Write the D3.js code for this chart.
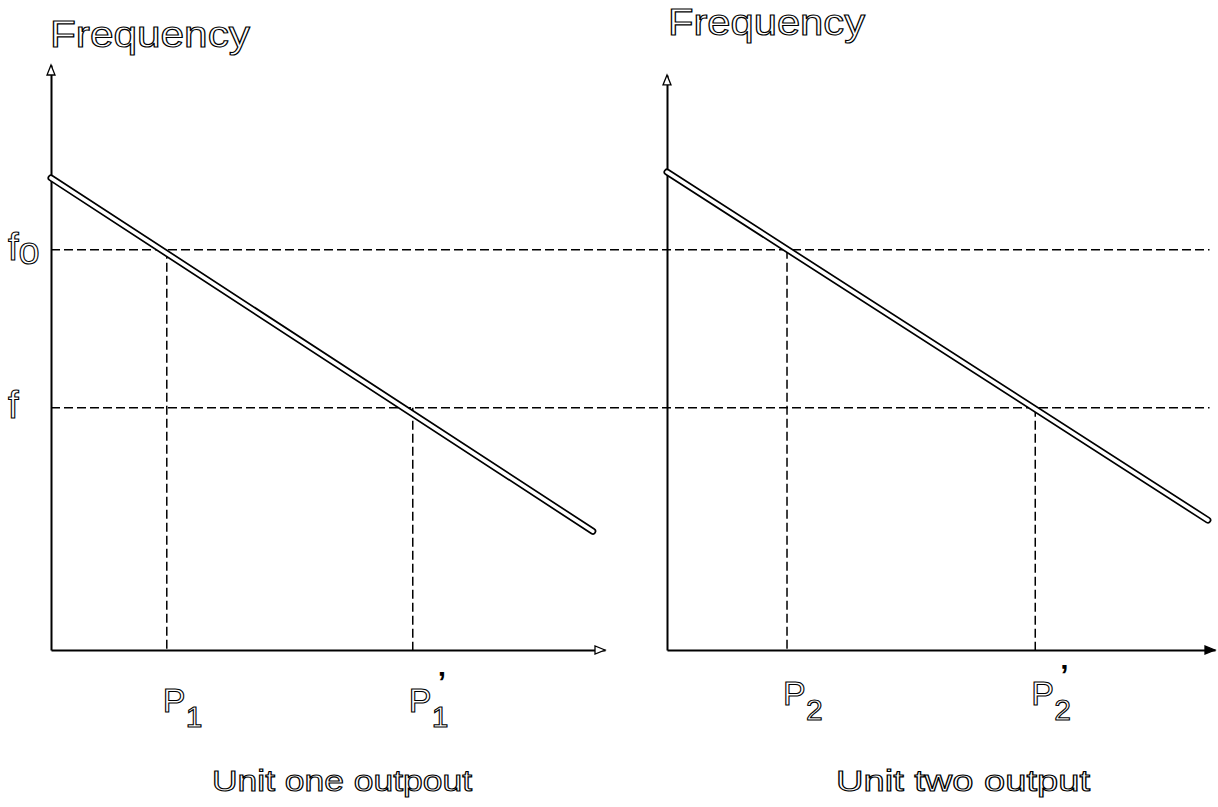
<!DOCTYPE html>
<html>
<head>
<meta charset="utf-8">
<script src="https://cdn.jsdelivr.net/npm/d3@7"></script>
<style>
	body { margin: 0; background: #fff; }
	svg { display: block; }
	.outline { fill: #fff; stroke: #000; stroke-width: 1.1px; font-family: "Liberation Sans", Arial, sans-serif; }
	.domain { stroke: #000; stroke-width: 2px; }
</style>
</head>
<body>
<div id="chart"></div>
<script>
// panel names (x axis titles)
const panelNames = ["Unit one outpout", "Unit two output"]
const yTitle = "Frequency"

// frequency levels, shared by both panels
const freqLabels = [["f", "o"], ["f", ""]]
const freqValues = [6.84, 4.14]

// output points where each panel's droop line meets f0 and f
const pointSubs = [["1", "1"], ["2", "2"]]
const pointPrime = [false, true]
const pointValues = [[2.09, 6.53], [2.19, 6.72]]

// droop line of each unit: frequency at zero output, and the end point
const lineStartFreq = [8.07, 8.17]
const lineEndOutput = [9.78, 9.87]
const lineEndFreq = [2.03, 2.22]

// axis extents
const axisTop = [10, 9.83]
const axisRight = [10, 10]

const width = 1218
const height = 807

const svg = d3.select("#chart")
	.append("svg")
	.attr("width", width)
	.attr("height", height)

const yScale = d3.scaleLinear().domain([0, 10]).range([650, 65])

const xScales = [
	d3.scaleLinear().domain([0, 10]).range([51, 605]),
	d3.scaleLinear().domain([0, 10]).range([667, 1215]),
]

const titlePos = [{ x: 50, y: 47 }, { x: 668, y: 35 }]
const titleLen = [200, 197]
const pointLabelY = [712, 705]
const panelNamePos = [{ x: 212, len: 260 }, { x: 836, len: 254 }]
const hollowArrow = [{ y: true, x: true }, { y: true, x: false }]

// dashed frequency levels run across both panels
const dashed = svg.append("g").attr("class", "levels")
freqValues.forEach((v) => {
	dashed.append("line")
		.attr("x1", xScales[0](0))
		.attr("x2", xScales[1](9.9))
		.attr("y1", yScale(v))
		.attr("y2", yScale(v))
		.attr("stroke", "#000")
		.attr("stroke-width", 1.5)
		.attr("stroke-dasharray", "9,4")
})

// frequency labels on the left
freqLabels.forEach(([main, sub], i) => {
	const t = svg.append("text")
		.attr("class", "outline")
		.attr("x", 8)
		.attr("y", yScale(freqValues[i]) + 10)
		.style("font-size", "38px")
	t.append("tspan").text(main)
	if (sub) {
		t.append("tspan")
			.attr("dy", 4)
			.style("font-size", "38px")
			.text(sub)
	}
})

panelNames.forEach((name, i) => {
	const x = xScales[i]
	const g = svg.append("g").attr("class", `panel panel-${i}`)
	const yAxisScale = yScale.copy()
		.domain([0, axisTop[i]])
		.range([yScale(0), yScale(axisTop[i])])
	const xAxisScale = x.copy()
		.domain([0, axisRight[i]])
		.range([x(0), x(axisRight[i])])

	// vertical dashed drops from the droop line to the output axis
	pointValues[i].forEach((p, j) => {
		g.append("line")
			.attr("x1", x(p))
			.attr("x2", x(p))
			.attr("y1", yScale(freqValues[j]))
			.attr("y2", yScale(0))
			.attr("stroke", "#000")
			.attr("stroke-width", 1.5)
			.attr("stroke-dasharray", "9,4")
	})

	// axes
	g.append("g")
		.attr("class", "y-axis")
		.attr("transform", `translate(${x(0)},0)`)
		.call(d3.axisLeft(yAxisScale).tickValues([]).tickSizeOuter(0))
	g.append("g")
		.attr("class", "x-axis")
		.attr("transform", `translate(0,${yScale(0)})`)
		.call(d3.axisBottom(xAxisScale).tickValues([]).tickSizeOuter(0))

	// arrow heads
	const ty = yAxisScale(axisTop[i])
	g.append("path")
		.attr("d", `M${x(0)},${ty} l-4,10 l8,0 Z`)
		.attr("fill", hollowArrow[i].y ? "#fff" : "#000")
		.attr("stroke", "#000")
		.attr("stroke-width", 1.3)
	const tx = xAxisScale(axisRight[i])
	g.append("path")
		.attr("d", `M${tx},${yScale(0)} l-10,-4 l0,8 Z`)
		.attr("fill", hollowArrow[i].x ? "#fff" : "#000")
		.attr("stroke", "#000")
		.attr("stroke-width", 1.3)

	// droop line drawn as a double line
	const pts = [[0, lineStartFreq[i]], [lineEndOutput[i], lineEndFreq[i]]]
	const line = d3.line()
		.x((d) => x(d[0]))
		.y((d) => yScale(d[1]))
	g.append("path")
		.datum(pts)
		.attr("d", line)
		.attr("fill", "none")
		.attr("stroke", "#000")
		.attr("stroke-width", 7)
		.attr("stroke-linecap", "round")
	g.append("path")
		.datum(pts)
		.attr("d", line)
		.attr("fill", "none")
		.attr("stroke", "#fff")
		.attr("stroke-width", 3.6)
		.attr("stroke-linecap", "round")

	// y title
	g.append("text")
		.attr("class", "outline")
		.attr("x", titlePos[i].x)
		.attr("y", titlePos[i].y)
		.attr("textLength", titleLen[i])
		.attr("lengthAdjust", "spacingAndGlyphs")
		.style("font-size", "36px")
		.text(yTitle)

	// output point labels: letter, subscript and prime as separate texts
	pointValues[i].forEach((p, j) => {
		const px = x(p) - 4
		const py = pointLabelY[i]
		g.append("text")
			.attr("class", "outline")
			.attr("x", px)
			.attr("y", py)
			.style("font-size", "34px")
			.text("P")
		g.append("text")
			.attr("class", "outline")
			.attr("x", px + 23)
			.attr("y", py + 15)
			.style("font-size", "30px")
			.text(pointSubs[i][j])
		if (pointPrime[j]) {
			g.append("text")
				.attr("x", px + 29)
				.attr("y", py - 20)
				.style("font-family", "Liberation Sans, Arial, sans-serif")
				.style("font-size", "30px")
				.style("font-weight", "bold")
				.attr("fill", "#000")
				.text("’")
		}
	})

	// panel name
	g.append("text")
		.attr("class", "outline")
		.attr("x", panelNamePos[i].x)
		.attr("y", 791)
		.attr("textLength", panelNamePos[i].len)
		.attr("lengthAdjust", "spacingAndGlyphs")
		.style("font-size", "30px")
		.text(name)
})
</script>
</body>
</html>
